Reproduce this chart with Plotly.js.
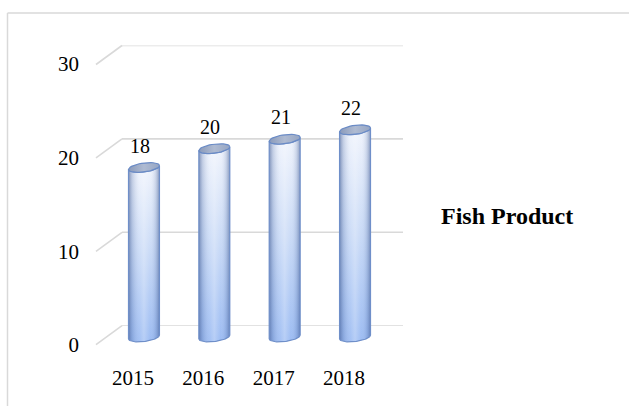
<!DOCTYPE html>
<html>
<head>
<meta charset="utf-8">
<script src="https://cdn.plot.ly/plotly-3.0.1.min.js"></script>
<style>html,body{margin:0;padding:0;background:#fff;}#chart{width:629px;height:406px;}</style>
</head>
<body>
<div id="chart"></div>
<script>
// ---- data ----
const years = ['2015', '2016', '2017', '2018'];
const values = [18, 20, 21, 22];
const yTicks = [0, 10, 20, 30];
const seriesName = 'Fish Product';

// ---- geometry helpers (middle plane units) ----
const halfW = 0.22;   // cylinder half width in category units
const ellB = 0.48;    // ellipse half height in value units
const tilt = 0.2;     // ellipse tilt in value units
const N = 40;
const FONT = 'Liberation Serif, Times New Roman, serif';
const W = 629, H = 406;

// plane domains
const backX = [122 / W, 403 / W], backY = [1 - 325.7 / H, 1 - 45.5 / H];
const frontX = [97.8 / W, 379.2 / W], frontY = [1 - 345 / H, 1 - 64 / H];
const midX = [108.8 / W, 390.2 / W], midY = [1 - (337 + 1.5 * 9.4167) / H, 1 - 54.5 / H];
const depthDX = 26, depthDY = 19; // pixel offset between front and back planes

function arc(cx, cy, t0, t1) {
  const xs = [], ys = [];
  for (let i = 0; i <= N; i++) {
    const t = t0 + (t1 - t0) * i / N;
    xs.push(cx + halfW * Math.cos(t));
    ys.push(cy + ellB * Math.sin(t) + tilt * Math.cos(t));
  }
  return [xs, ys];
}

const traces = [];
// empty traces so the back and front subplots exist
traces.push({x: [], y: [], type: 'scatter', xaxis: 'x', yaxis: 'y', hoverinfo: 'skip', showlegend: false});
traces.push({x: [], y: [], type: 'scatter', xaxis: 'x2', yaxis: 'y2', hoverinfo: 'skip', showlegend: false});

values.forEach((v, i) => {
  const top = arc(i, v, Math.PI, 2 * Math.PI);
  const bot = arc(i, 0, 2 * Math.PI, Math.PI);
  const bx = top[0].concat(bot[0]);
  const by = top[1].concat(bot[1]);
  bx.push(bx[0]); by.push(by[0]);
  traces.push({
    x: bx, y: by, type: 'scatter', mode: 'lines', fill: 'toself',
    xaxis: 'x3', yaxis: 'y3', hoverinfo: 'skip', showlegend: false,
    line: {width: 0, color: 'rgba(0,0,0,0)'},
    fillgradient: {type: 'vertical', colorscale: [[0, '#98b9f2'], [0.5, '#c6d8f6'], [1, '#eff3fc']]}
  });
  traces.push({
    x: bx, y: by, type: 'scatter', mode: 'lines', fill: 'toself',
    xaxis: 'x3', yaxis: 'y3', hoverinfo: 'skip', showlegend: false,
    line: {width: 1.2, color: '#6f8fc9'},
    fillgradient: {type: 'horizontal', colorscale: [
      [0, 'rgba(60,85,140,0.6)'], [0.12, 'rgba(90,115,165,0.28)'], [0.35, 'rgba(255,255,255,0.12)'],
      [0.5, 'rgba(255,255,255,0.3)'], [0.7, 'rgba(255,255,255,0.05)'], [0.88, 'rgba(90,115,165,0.22)'],
      [1, 'rgba(60,85,140,0.55)']]}
  });
  const e = arc(i, v, 0, 2 * Math.PI);
  traces.push({
    x: e[0], y: e[1], type: 'scatter', mode: 'lines', fill: 'toself',
    xaxis: 'x3', yaxis: 'y3', hoverinfo: 'skip', showlegend: false,
    line: {width: 1.2, color: '#6a8bc6'},
    fillgradient: {type: 'horizontal', colorscale: [[0, '#8a9aba'], [0.5, '#afbbd2'], [1, '#95a5c3']]}
  });
});

// gridlines on back plane + diagonal floor lines to front plane
const shapes = [];
yTicks.forEach(t => {
  shapes.push({type: 'line', xref: 'x domain', yref: 'y', x0: 0, x1: 1, y0: t, y1: t,
    line: {color: '#d9d9d9', width: 1.6}, layer: 'below'});
  // back-plane point in paper fraction, then offset toward the front plane
  const yb = backY[0] + (backY[1] - backY[0]) * t / 30;
  shapes.push({type: 'line', xref: 'paper', yref: 'paper',
    x0: backX[0] - depthDX / W, x1: backX[0], y0: yb - depthDY / H, y1: yb,
    line: {color: '#d9d9d9', width: 1.6}, layer: 'below'});
});
// outer frame
shapes.push({type: 'line', xref: 'paper', yref: 'paper', x0: 7.5 / W, x1: 1, y0: 1 - 13 / H, y1: 1 - 13 / H,
  line: {color: '#d9d9d9', width: 1.5}});
shapes.push({type: 'line', xref: 'paper', yref: 'paper', x0: 7.5 / W, x1: 7.5 / W, y0: 0, y1: 1 - 13 / H,
  line: {color: '#d9d9d9', width: 1.5}});

const annotations = values.map((v, i) => ({
  x: i, y: v, xref: 'x3', yref: 'y3', text: String(v), showarrow: false,
  xshift: -4, yshift: 22, xanchor: 'center', yanchor: 'middle',
  font: {family: FONT, size: 20, color: '#000'}
}));
annotations.push({
  x: 507 / W, y: 1 - 216 / H, xref: 'paper', yref: 'paper', text: seriesName, showarrow: false,
  xanchor: 'center', yanchor: 'middle', font: {family: FONT, size: 24, color: '#000', weight: 'bold'}
});

const hidden = {visible: false, fixedrange: true};
const layout = {
  width: W, height: H,
  margin: {l: 0, r: 0, t: 0, b: 0, pad: 0},
  paper_bgcolor: '#ffffff', plot_bgcolor: 'rgba(0,0,0,0)',
  showlegend: false,
  xaxis: Object.assign({domain: backX, range: [-0.5, 3.5], anchor: 'y'}, hidden),
  yaxis: Object.assign({domain: backY, range: [0, 30], anchor: 'x'}, hidden),
  xaxis2: {domain: frontX, range: [-0.5, 3.5], anchor: 'y2',
    tickmode: 'array', tickvals: years.map((_, i) => i), ticktext: years,
    showgrid: false, zeroline: false, showline: false, ticks: '', ticklabelstandoff: 18,
    tickfont: {family: FONT, size: 21, color: '#000'}, fixedrange: true},
  yaxis2: {domain: frontY, range: [0, 30], anchor: 'free', position: 79 / W,
    tickmode: 'array', tickvals: yTicks, ticktext: yTicks.map(String),
    showgrid: false, zeroline: false, showline: false, ticks: '',
    tickfont: {family: FONT, size: 21, color: '#000'}, fixedrange: true},
  xaxis3: Object.assign({domain: midX, range: [-0.5, 3.5], anchor: 'y3'}, hidden),
  yaxis3: Object.assign({domain: midY, range: [-1.5, 30], anchor: 'x3'}, hidden),
  shapes: shapes,
  annotations: annotations
};

Plotly.newPlot('chart', traces, layout, {displayModeBar: false, staticPlot: true});
</script>
</body>
</html>
